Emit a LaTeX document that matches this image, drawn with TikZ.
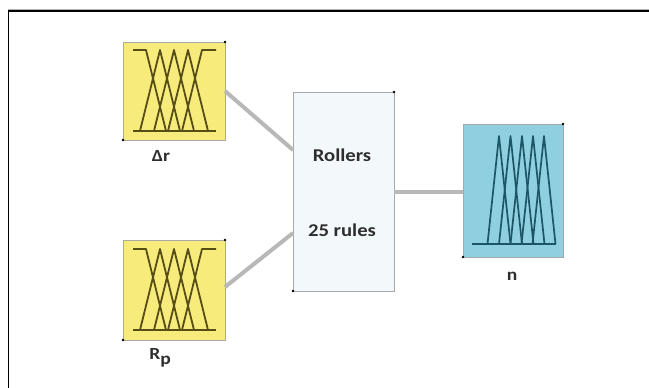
\documentclass[tikz,border=0pt]{standalone}
\usepackage{fontspec}
\setmainfont{Carlito}
\newcommand{\wide}[1]{\scalebox{1.15}[1]{#1}}
\begin{document}
\begin{tikzpicture}[x=1pt,y=-1pt,
  box/.style={draw=boxgray,line width=1pt,inner sep=0pt,outer sep=0pt},
  inbox/.style={box,fill=inyellow,minimum width=102pt,minimum height=98pt},
  midbox/.style={box,fill=midfill,minimum width=101pt,minimum height=199pt},
  outbox/.style={box,fill=outblue,minimum width=100pt,minimum height=133pt},
  conn/.style={draw=conngray,line width=4pt},
  inmf/.style={draw=inline,line width=1.8pt,line join=round},
  outmf/.style={draw=outline,line width=1.7pt,line join=round},
  lbl/.style={text=txt,font=\bfseries\fontsize{17}{20}\selectfont,inner sep=0pt},
  midtxt/.style={text=txt,font=\bfseries\fontsize{18}{22}\selectfont,inner sep=0pt},
  cdot/.style={fill=black,radius=1.3pt}]
\definecolor{inyellow}{HTML}{F7EB7C}
\definecolor{outblue}{HTML}{8FCFDF}
\definecolor{midfill}{HTML}{F3F8FB}
\definecolor{boxgray}{HTML}{A8A8A8}
\definecolor{conngray}{HTML}{B8B8B8}
\definecolor{inline}{HTML}{564E16}
\definecolor{outline}{HTML}{1C5666}
\definecolor{txt}{HTML}{2E2E2E}
\useasboundingbox (0,0) rectangle (649,388);
\fill[white] (0,0) rectangle (649,388);
% frame
\draw[gray!60,line width=0.8pt] (8,9.2) -- (649,9.2);
\draw[black,line width=1.8pt] (8.5,388) -- (8.5,11) -- (649,11);
% boxes
\node[inbox] (in1) at (174,91) {};
\node[inbox,minimum height=100pt] (in2) at (174,290) {};
\node[midbox] (mid) at (343.5,191.5) {};
\node[outbox] (out) at (513,190.5) {};
% connectors
\draw[conn] (in1.east) -- ([yshift=41.5pt]mid.west);
\draw[conn] ([yshift=3pt]in2.east) -- ([yshift=-41.5pt]mid.west);
\draw[conn] (mid.east) -- (out.west |- mid.east);
% corner dots
\foreach \n in {in1,in2,mid,out}{
  \fill[cdot] (\n.north east) circle;
  \fill[cdot] (\n.south west) circle;
}
% input membership functions
\foreach \dy in {0,199}{
\begin{scope}[yshift=-\dy pt]
  \draw[inmf] (133,131) -- (216,131);
  \draw[inmf] (133,50) -- (146,50) -- (166,131);
  \draw[inmf] (140,131) -- (160,50) -- (180,131);
  \draw[inmf] (154,131) -- (174,50) -- (194,131);
  \draw[inmf] (168,131) -- (188,50) -- (208,131);
  \draw[inmf] (182,131) -- (202,50) -- (216,50);
\end{scope}
}
% output membership functions
\draw[outmf] (472,244) -- (556,244);
\foreach \c in {499,510.5,522,533,544}{
  \draw[outmf] (\c-11.5,244) -- (\c,136) -- (\c+11.5,244);
}
% labels
\node[lbl] (lr) at (161,156) {\wide{Δr}};
\node[lbl] (lp) at (160,358) {\wide{R\raisebox{-0.28em}{p}}};
\node[lbl] (ln) at (512,276) {\wide{n}};
\node[midtxt] (t1) at (342,155) {\wide{Rollers}};
\node[midtxt] (t2) at (342,230) {\wide{25 rules}};
\end{tikzpicture}
\end{document}
